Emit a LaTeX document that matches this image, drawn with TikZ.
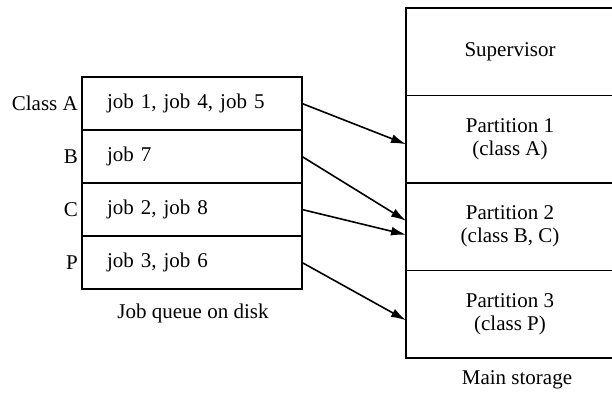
\documentclass[tikz,border=0pt]{standalone}
\usepackage{fontspec}
\setmainfont{Liberation Serif}
\usetikzlibrary{arrows.meta}
\begin{document}
\begin{tikzpicture}[x=1pt,y=-1pt,
  every node/.style={font=\fontsize{21}{23}\selectfont},
  qcell/.style={draw, line width=1.8pt, text width=170pt, inner xsep=25pt,
    inner ysep=0pt, minimum height=53pt, align=left, outer sep=0pt},
  mcell/.style={draw, line width=1.8pt, minimum width=208pt, minimum height=87.5pt,
    align=center, inner sep=0pt, outer sep=0pt},
  clabel/.style={anchor=east, inner sep=0pt},
  feed/.style={line width=1.6pt, -{Latex[length=15pt,width=9pt]}}
]
\useasboundingbox (0,0) rectangle (612,398);

% job queue on disk
\node[qcell] (qA) at (192,103.5) {job 1, job 4, job 5};
\node[qcell] (qB) at (192,156.5) {job 7};
\node[qcell] (qC) at (192,209.5) {job 2, job 8};
\node[qcell] (qP) at (192,262.5) {job 3, job 6};

\node[clabel] (lA) at (78,103.5) {Class A};
\node[clabel] (lB) at (78,156.5) {B};
\node[clabel] (lC) at (78,209.5) {C};
\node[clabel] (lP) at (78,262.5) {P};

\node (qcap) at (193,313) {Job queue on disk};

% main storage
\node[mcell] (sup) at (510,51.75) {Supervisor};
\node[mcell] (p1) at (510,139.25) {Partition 1\\(class A)};
\node[mcell] (p2) at (510,226.75) {Partition 2\\(class B, C)};
\node[mcell] (p3) at (510,314.25) {Partition 3\\(class P)};

\node (mcap) at (517,380) {Main storage};

% class-to-partition assignment
\draw[feed] (qA.east) -- ([yshift=-5pt]p1.west);
\draw[feed] (qB.east) -- ([yshift=6pt]p2.west);
\draw[feed] (qC.east) -- ([yshift=-8pt]p2.west);
\draw[feed] (qP.east) -- ([yshift=-6pt]p3.west);
\end{tikzpicture}
\end{document}
